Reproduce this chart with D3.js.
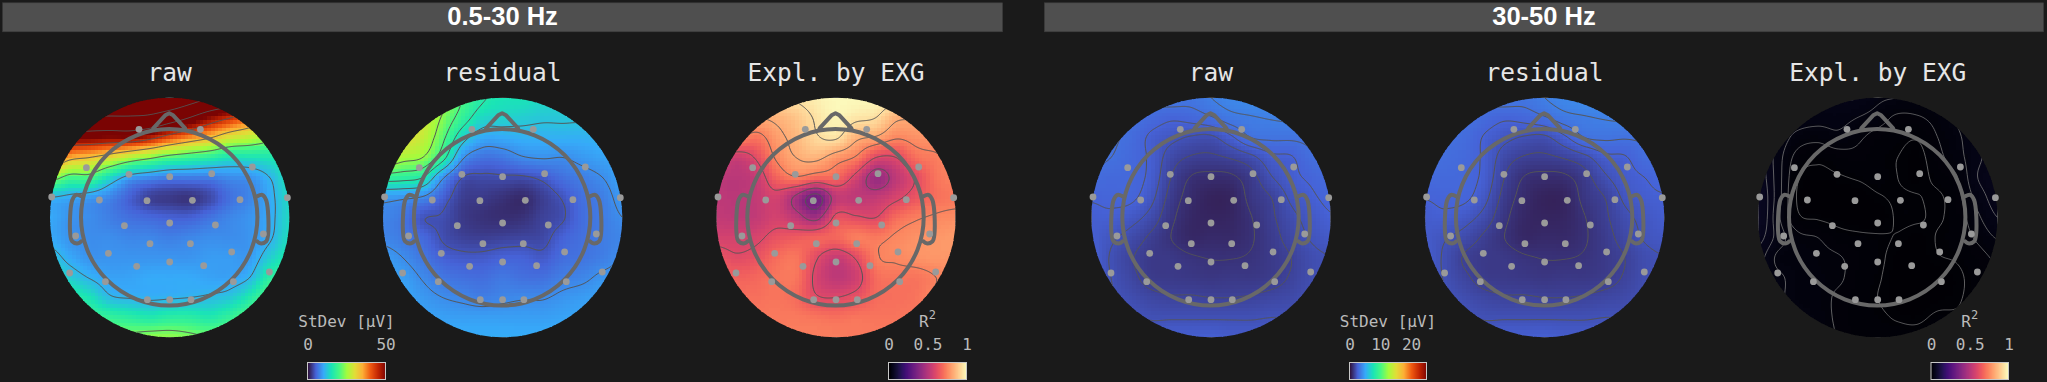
<!DOCTYPE html>
<html><head><meta charset="utf-8">
<script src="https://cdn.jsdelivr.net/npm/d3@7"></script>
<style>html,body{margin:0;padding:0;background:#1a1a1a;overflow:hidden}svg{display:block}</style>
</head><body><svg id="c" width="2047" height="382"></svg>
<script>
// Values: 13 x 13 samples over the map square, one inner list per column (left to right), top to bottom.
const raw05=[
[80,72,56,42,25,11,10,10,12.5,15,17,20,22],
[80,67,51,35,20,10,8.5,8.5,10,13,17,20,22],
[78,65,50,33,20,9,8,8,8.5,10.8,15,19,22],
[76,65,49,30,14.3,7.5,7,8,8.5,9.5,11.5,18,23],
[76,65,49,26,9.5,5,6,7.5,8.5,9.5,10.8,17,23],
[75,64,46,23,8,3,5.5,7.5,8.5,10,10.5,16,24],
[74,60,41,20,7,2.5,5,7,8.5,10,10.7,17,24],
[70,55,37,18.5,7,2.2,5,7.5,8.5,10,11,17,23],
[66,49,33.5,17,7,3.5,6.2,8,9,9.5,11.5,16,22],
[62,44.5,29,15,8,6,7.5,8,9,9.5,12.5,18,22],
[58,40,27,15,8.5,7.5,8.5,8.5,9,11,16,21,24],
[54,36,24,15.5,11,10,10,10.5,13,17,21,24,26],
[50,32,21,17,15,14,14,14.5,16,19,23,26,28]];
const res05=[
[30,30,30,28,18,9,7.5,7.5,9,9.5,10,10.5,10.5],
[32,32,30,25.5,17.5,8.5,6.5,6.7,8,9.2,9.8,10,10.5],
[31,29,27.5,24,16,7.7,4.2,5.5,6.5,7.8,8.8,9.6,10.5],
[26,23.5,21,17.5,8.5,5,3.8,3.8,5,6.5,8,9.3,10.3],
[20,18,13.5,8.5,4,2.8,2.5,3,4.5,6,7.5,9.2,10.2],
[16.5,14,10,6.2,3.6,2.5,2,2.8,4.5,5.8,7,9.2,10.2],
[15,13.5,10,6.5,3.7,2,1.8,3,5,6.5,7.5,9.2,10.2],
[15,13,10.5,7.8,3.7,1.6,2,3.2,5,6,7.8,9.2,10.2],
[14,12.5,10.5,8.2,4.5,2.8,3,3.4,4.5,6,7.8,9.2,10.2],
[13.5,12.5,10.5,8,6,4.2,3.8,5,5.8,7,8.5,9.5,10.3],
[14,12.5,10.5,8.8,7,6,5.8,6,6.3,7.5,9,9.8,10.3],
[14,13,11,9.5,8,7,6.8,6.8,7,8.5,9.5,10,10.5],
[14,13,11.5,10,9.5,8.8,8,7.5,8,9,9.7,10.2,10.5]];
const expl05=[
[.85,.85,.8,.62,.52,.52,.53,.57,.64,.68,.71,.72,.73],
[.85,.84,.76,.55,.51,.51,.52,.57,.61,.67,.7,.72,.73],
[.87,.82,.71,.61,.54,.53,.53,.58,.63,.68,.7,.72,.73],
[.92,.84,.79,.75,.67,.57,.57,.63,.69,.71,.71,.72,.73],
[.94,.88,.85,.82,.73,.46,.52,.65,.71,.71,.69,.72,.73],
[.97,.94,.92,.84,.69,.33,.45,.67,.61,.58,.61,.71,.73],
[.99,.98,.94,.78,.68,.52,.62,.68,.54,.52,.6,.7,.73],
[.99,.95,.84,.73,.57,.52,.61,.73,.61,.56,.63,.71,.72],
[.98,.93,.81,.6,.43,.53,.6,.72,.73,.69,.69,.71,.72],
[.96,.84,.75,.6,.52,.58,.69,.75,.75,.71,.7,.71,.72],
[.92,.83,.77,.7,.61,.64,.73,.77,.77,.71,.71,.72,.72],
[.88,.83,.78,.73,.71,.7,.75,.78,.78,.74,.75,.74,.73],
[.85,.83,.8,.76,.74,.72,.76,.79,.78,.76,.75,.74,.73]];
const raw30=[
[3,3.2,3.2,3.15,2.85,2.55,2.4,2.4,2.45,2.5,2.5,2.5,2.5],
[3.1,3.2,3.1,3,2.75,2.6,2.4,2.1,1.95,2,2.1,2.4,2.5],
[3.2,3.05,2.85,2.75,2.7,2.6,2.2,1.8,1.55,1.65,1.85,2.1,2.3],
[3.2,2.8,2.4,2.4,2.35,2.15,1.8,1.4,1.25,1.3,1.65,1.95,2.3],
[3.3,2.6,2.15,1.75,1.5,1.3,1.12,1,1.2,1.25,1.55,1.95,2.4],
[3.2,2.7,1.95,1.45,.97,.8,.7,.7,1.05,1.2,1.55,1.95,2.4],
[3.5,2.95,1.9,1.4,.85,.55,.6,.75,.98,1.15,1.5,1.95,2.4],
[3.8,3.3,2.4,1.55,.9,.6,.65,.75,.98,1.2,1.5,1.95,2.3],
[4,3.45,3,1.85,1.3,1.15,.98,.95,1.05,1.2,1.55,1.95,2.3],
[4,3.55,3.1,2.35,1.95,1.5,1.4,1.3,1.25,1.3,1.65,2,2.3],
[4,3.6,3.1,2.45,2.35,2.1,1.85,1.7,1.5,1.55,1.75,2,2.3],
[3.9,3.5,3.15,2.9,2.6,2.4,2.2,2.05,1.85,1.85,1.95,2.1,2.3],
[3.8,3.5,3.2,3,2.85,2.65,2.45,2.25,2,2.05,2.1,2.2,2.3]];
const res30=[
[3,3,3,3,2.8,2.52,2.35,2.3,2.35,2.45,2.5,2.5,2.5],
[3.1,3.2,3,2.9,2.75,2.6,2.4,2.05,1.92,1.95,2.1,2.4,2.5],
[3.2,3.05,2.85,2.75,2.7,2.6,2.2,1.8,1.45,1.6,1.85,2.1,2.3],
[3.2,2.8,2.45,2.4,2.35,2.15,1.8,1.4,1.25,1.3,1.65,1.95,2.3],
[3.3,2.6,2.15,1.75,1.5,1.3,1.12,1,1.2,1.25,1.55,1.95,2.4],
[3.2,2.7,1.95,1.45,.97,.8,.7,.7,1.05,1.2,1.55,1.95,2.4],
[3.5,2.95,1.9,1.4,.85,.55,.6,.75,.98,1.15,1.5,1.95,2.4],
[3.8,3.3,2.4,1.55,.9,.6,.65,.75,.98,1.2,1.5,1.95,2.3],
[4,3.45,3,1.85,1.3,1.15,.98,.95,1.05,1.2,1.55,1.95,2.3],
[4,3.55,3.1,2.35,1.9,1.5,1.4,1.3,1.25,1.3,1.65,2,2.3],
[4,3.6,3.05,2.45,2.3,2.1,1.85,1.7,1.5,1.55,1.75,2,2.3],
[3.9,3.5,3.1,2.85,2.5,2.35,2.15,2.05,1.85,1.85,1.95,2.1,2.3],
[3.8,3.5,3.2,3,2.75,2.45,2.35,2.2,2,2.05,2.1,2.2,2.3]];
const expl30=[
[.05,.05,.05,.055,.058,.062,.063,.055,.045,.04,.04,.04,.04],
[.04,.04,.038,.035,.035,.035,.033,.036,.028,.032,.032,.03,.03],
[.035,.036,.026,.016,.011,.009,.012,.023,.026,.027,.027,.03,.03],
[.034,.034,.023,.012,.008,.005,.009,.02,.023,.024,.025,.026,.03],
[.04,.034,.027,.015,.009,.005,.007,.014,.021,.022,.018,.018,.019],
[.04,.03,.022,.017,.011,.005,.005,.012,.016,.015,.014,.014,.015],
[.032,.025,.016,.013,.013,.009,.005,.011,.012,.011,.01,.012,.015],
[.03,.018,.013,.01,.01,.011,.011,.0095,.007,.006,.006,.009,.014],
[.028,.019,.011,.007,.007,.0105,.011,.007,.006,.005,.005,.008,.014],
[.03,.024,.02,.017,.013,.0085,.009,.0105,.0095,.006,.007,.012,.02],
[.035,.032,.028,.026,.02,.017,.015,.014,.011,.0085,.009,.012,.02],
[.04,.04,.039,.038,.04,.034,.028,.022,.016,.014,.014,.015,.02],
[.045,.045,.045,.045,.045,.045,.04,.031,.022,.02,.018,.02,.02]];
// Sensor layout, in map units (map radius 120)
const sensorX=[-30.7,30.7,-83.3,-40.7,0,42,82.7,-118,-70.3,-22.7,22.7,70.3,117.7,-94,-45.3,0,45.7,93.7,-19.7,20.7,-61.3,62,-100,-33,0,34,99.7,-64.3,63.7,-22.3,0,21.3];
const sensorY=[-88.2,-88.2,-49.8,-43.2,-40.8,-43.8,-50.5,-20.5,-17.5,-16.8,-17.2,-17.8,-19.8,18.5,8.2,5.5,7.5,16.5,26.2,26.2,35.8,34.5,55.5,48.8,44.5,48.2,54.5,64.2,64.2,82.2,82.2,82.2];
// Head drawing, map units
const headRadius=88.2;
const noseX=[-16,-4,0,4,16], noseY=[-89,-102,-104,-102,-89];
const earX=[-88,-93,-97,-99,-97,-91,-88], earY=[-21,-22.5,-17,16,24,26,24];
// Band headers and panels
const bands=["0.5-30 Hz","30-50 Hz"];
const panelTitles=["raw","residual","Expl. by EXG"];
const stdevTicks05=[0,50], stdevTicks30=[0,10,20], r2Ticks=[0,0.5,1];
const turboStops=["#30123b","#4662d7","#36aaf9","#1ae4b6","#46f884","#a4fc3c","#e1dd37","#fdae35","#ef5911","#c22402","#7a0403"];
const levels05=[11,22,33,44,55,66], levelsRes05=[4,8,12,16,20,24], levels30=[1,1.5,2,2.5,3,3.5];
const levelsR205=[.37,.48,.6,.74,.82,.93], levelsR230=[.01,.02,.03,.04,.05];

const svg=d3.select("#c");
svg.append("rect").attr("width",2047).attr("height",382).attr("fill","#1a1a1a");
const defs=svg.append("defs");
const MONO="'DejaVu Sans Mono',monospace";

const turbo=d3.piecewise(d3.interpolateRgb,turboStops);
const stdev05=d3.scaleSequential(turbo).domain([0,50]).clamp(true);
const stdev30=d3.scaleSequential(turbo).domain([0,25]).clamp(true);
const r2=d3.scaleSequential(d3.interpolateMagma).domain([0,1]).clamp(true);

// header bars
const barX=[[2.6,1002.6],[1044.3,2043.6]];
bands.forEach((b,i)=>{
  svg.append("rect").attr("x",barX[i][0]).attr("y",2.8).attr("width",barX[i][1]-barX[i][0]).attr("height",29)
     .attr("fill","#4f4f4f").attr("stroke","#3a3a3a").attr("stroke-width",.6);
  svg.append("text").attr("x",(barX[i][0]+barX[i][1])/2).attr("y",25).attr("text-anchor","middle")
     .attr("font-family","'Liberation Sans',Arial,sans-serif").attr("font-weight",700).attr("font-size",25.5)
     .attr("fill","#fff").text(b);
});

// bicubic sampling of the read-off grid
function cr(a,b,c,d,t){return .5*((2*b)+(-a+c)*t+(2*a-5*b+4*c-d)*t*t+(-a+3*b-3*c+d)*t*t*t);}
function sample(g,u,v){ // u,v in grid units 0..12
  const cl=(k)=>Math.max(0,Math.min(12,k));
  const i=Math.min(11,Math.floor(u)),j=Math.min(11,Math.floor(v)),s=u-i,t=v-j;
  const col=k=>{const c=g[cl(k)];return cr(c[cl(j-1)],c[j],c[j+1],c[cl(j+2)],t);};
  return cr(col(i-1),col(i),col(i+1),col(i+2),s);
}

const panels=[
 {cx:169.7,grid:raw05,color:stdev05,levels:levels05,title:0,line:"#555",lw:1},
 {cx:502.6,grid:res05,color:stdev05,levels:levelsRes05,title:1,line:"#555",lw:1},
 {cx:836,grid:expl05,color:r2,levels:levelsR205,title:2,line:"#555",lw:1},
 {cx:1211,grid:raw30,color:stdev30,levels:levels30,title:0,line:"#555",lw:1},
 {cx:1544.6,grid:res30,color:stdev30,levels:levels30,title:1,line:"#555",lw:1},
 {cx:1877.7,grid:expl30,color:r2,levels:levelsR230,title:2,line:"#777",lw:.8}
];
const cy=217.5,R=119.7;
const CELLS=64,FINE=240;

panels.forEach((p,k)=>{
  const x=d3.scaleLinear().domain([-120,120]).range([p.cx-120,p.cx+120]);
  const y=d3.scaleLinear().domain([-120,120]).range([cy-120,cy+120]);
  svg.append("text").attr("x",p.cx).attr("y",81).attr("text-anchor","middle")
     .attr("font-family",MONO).attr("font-size",24.5).attr("fill","#e6e6e6").text(panelTitles[p.title]);
  const id="clip"+k;
  defs.append("clipPath").attr("id",id).append("circle").attr("cx",p.cx).attr("cy",cy).attr("r",R);
  const g=svg.append("g").attr("clip-path",`url(#${id})`);
  // heat cells
  const cells=[];
  for(let j=0;j<CELLS;j++)for(let i=0;i<CELLS;i++){
    const mx=-120+(i+.5)*240/CELLS,my=-120+(j+.5)*240/CELLS;
    if(mx*mx+my*my>(R+6)*(R+6))continue;
    cells.push({mx,my,v:sample(p.grid,(mx+120)/20,(my+120)/20)});
  }
  const cw=240/CELLS;
  g.append("g").attr("shape-rendering","crispEdges").selectAll("rect").data(cells).join("rect")
    .attr("x",d=>x(d.mx-cw/2)).attr("y",d=>y(d.my-cw/2)).attr("width",cw+.6).attr("height",cw+.6)
    .attr("fill",d=>p.color(d.v));
  // contours
  const vals=new Array(FINE*FINE);
  for(let j=0;j<FINE;j++)for(let i=0;i<FINE;i++)
    vals[j*FINE+i]=sample(p.grid,(i+.5)*12/FINE,(j+.5)*12/FINE);
  const cont=d3.contours().size([FINE,FINE]).thresholds(p.levels)(vals);
  const path=d3.geoPath(d3.geoTransform({point(a,b){this.stream.point(x(a*240/FINE-120),y(b*240/FINE-120));}}));
  g.append("g").selectAll("path").data(cont).join("path").attr("d",path)
    .attr("fill","none").attr("stroke",p.line).attr("stroke-width",p.lw);
  // head
  const h=svg.append("g").attr("fill","none").attr("stroke","#686868").attr("stroke-width",4).attr("stroke-linejoin","round").attr("stroke-linecap","round");
  h.append("circle").attr("cx",x(0)-.5).attr("cy",y(0)-.2).attr("r",headRadius);
  const ln=d3.line().x(d=>x(d[0])-.5).y(d=>y(d[1])-.2);
  h.append("path").attr("d",ln(d3.zip(noseX,noseY)));
  const lc=d3.line().x(d=>x(d[0])-.5).y(d=>y(d[1])-.2).curve(d3.curveCatmullRom.alpha(.5));
  h.append("path").attr("d",lc(d3.zip(earX,earY)));
  h.append("path").attr("d",lc(d3.zip(earX.map(v=>-v),earY)));
  // sensors
  svg.append("g").selectAll("circle").data(d3.zip(sensorX,sensorY)).join("circle")
    .attr("cx",d=>x(d[0])).attr("cy",d=>y(d[1])).attr("r",3.4).attr("fill","#9a9a9a");
});

// colour bars
const bars=[
 {scale:stdev05,x0:307.5,x1:385.5,ticks:stdevTicks05,fmt:d=>d,label:"StDev [μV]"},
 {scale:r2,x0:888.5,x1:966.5,ticks:r2Ticks,fmt:d=>d,label:"R"},
 {scale:stdev30,x0:1349.5,x1:1426.5,ticks:stdevTicks30,fmt:d=>d,label:"StDev [μV]"},
 {scale:r2,x0:1931,x1:2008.5,ticks:r2Ticks,fmt:d=>d,label:"R"}
];
bars.forEach(b=>{
  const sx=d3.scaleLinear().domain(b.scale.domain()).range([b.x0,b.x1]);
  const n=Math.round(b.x1-b.x0);
  const st=d3.range(n).map(i=>sx.invert(b.x0+i+.5));
  svg.append("g").attr("shape-rendering","crispEdges").selectAll("rect").data(st).join("rect")
    .attr("x",d=>sx(d)-.5).attr("y",362.5).attr("width",1.3).attr("height",17).attr("fill",d=>b.scale(d));
  svg.append("rect").attr("x",b.x0).attr("y",362.5).attr("width",b.x1-b.x0).attr("height",17)
    .attr("fill","none").attr("stroke","#c8c8c8").attr("stroke-width",1);
  const ax=d3.axisTop(sx).tickValues(b.ticks).tickSize(0).tickPadding(0).tickFormat(b.fmt);
  const ag=svg.append("g").attr("transform","translate(0,350)").call(ax);
  ag.select(".domain").remove();
  ag.selectAll("text").attr("font-family",MONO).attr("font-size",16).attr("fill","#bbb");
  const t=svg.append("text").attr("x",(b.x0+b.x1)/2).attr("y",327).attr("text-anchor","middle")
    .attr("font-family",MONO).attr("font-size",16).attr("fill","#bbb").text(b.label);
  if(b.label==="R") t.append("tspan").attr("font-size",12).attr("dy",-8).text("2");
});
</script></body></html>
